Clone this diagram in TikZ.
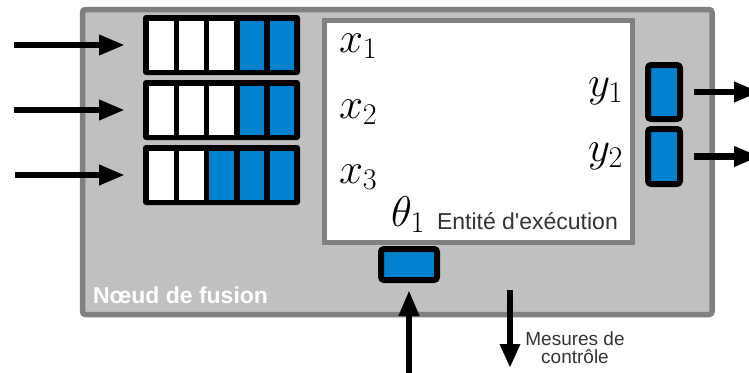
\RequirePackage{fix-cm}
\documentclass[tikz,border=0pt]{standalone}
\usepackage{fontspec}
\newfontfamily\arialf{Liberation Sans}[Ligatures=TeXOff]
\usetikzlibrary{arrows.meta}
\definecolor{boxgray}{HTML}{C0C0C0}
\definecolor{bordgray}{HTML}{808080}
\definecolor{cellblue}{HTML}{0082D0}
\definecolor{txtgray}{HTML}{333333}
\begin{document}
\begin{tikzpicture}[x=1pt,y=-1pt, outer sep=0pt, inner sep=0pt,
 arr/.style={line width=6.5pt, -{Triangle[length=26pt,width=19pt]}},
 buf/.style={fill=black, rounded corners=3pt, minimum width=157pt, minimum height=60pt},
 outbox/.style={fill=cellblue, draw=black, line width=6pt, rounded corners=3pt, minimum width=32pt, minimum height=54pt},
 mathlbl/.style={font=\fontsize{43}{43}\selectfont},
 sanslbl/.style={font=\arialf\fontsize{23}{23}\selectfont}]
\path[use as bounding box, clip] (0,0) rectangle (749,372);

\node[draw=bordgray, fill=boxgray, line width=5.5pt, rounded corners=3pt,
      minimum width=629.5pt, minimum height=305pt] (fusion) at (397.25,162) {};
\node[draw=bordgray, fill=white, line width=5pt,
      minimum width=308pt, minimum height=221.5pt] (exec) at (478.5,131.25) {};

\node[buf] (buf1) at (221.5,45) {};
\node[buf] (buf2) at (221.5,110) {};
\node[buf] (buf3) at (221.5,175) {};
\foreach \r/\nw in {1/3,2/3,3/2}{
  \foreach \i in {0,...,4}{
    \pgfmathsetmacro{\cx}{6+30.2*\i}
    \ifnum\i<\nw \def\cc{white}\else\def\cc{cellblue}\fi
    \fill[\cc] ([xshift=\cx pt, yshift=24pt]buf\r.west) rectangle ++(24.5,49);
  }
}

\coordinate (in1) at (14,45);
\coordinate (in2) at (14,110);
\coordinate (in3) at (15,175);
\draw[arr] (in1) -- ([xshift=-18pt]buf1.west);
\draw[arr] (in2) -- ([xshift=-18pt]buf2.west);
\draw[arr] (in3) -- ([xshift=-18pt]buf3.west);

\node[outbox] (out1) at (664,92) {};
\node[outbox, minimum height=55pt] (out2) at (664,156.5) {};
\coordinate (o1) at (760,92);
\coordinate (o2) at (760,156.5);
\draw[arr] ([xshift=14pt]out1.east) -- (o1);
\draw[arr] ([xshift=14pt]out2.east) -- (o2);

\node[outbox, minimum width=56pt, minimum height=31pt] (theta) at (409,264.5) {};
\coordinate (thin) at (409,385);
\draw[arr] (thin) -- ([yshift=-10pt]theta.south);

\coordinate (m1) at (510,290);
\coordinate (m2) at (510,368);
\draw[arr, -{Triangle[length=24pt,width=19pt]}] (m1) -- (m2);

\node[mathlbl, anchor=base west] (x1) at (339,52) {$x_1$};
\node[mathlbl, anchor=base west] (x2) at (339,118) {$x_2$};
\node[mathlbl, anchor=base west] (x3) at (339,183) {$x_3$};
\node[mathlbl, anchor=base east] (y1) at (623,96) {$y_1$};
\node[mathlbl, anchor=base east] (y2) at (623,161) {$y_2$};
\node[mathlbl, anchor=base west] (th) at (391,226) {$\theta_1$};

\node[sanslbl, text=txtgray, anchor=base west] (exlbl) at (437,229) {Entité d'exécution};
\node[sanslbl, font=\arialf\bfseries\fontsize{23}{23}\selectfont, text=white, anchor=base west] (fuslbl) at (93,303) {Nœud de fusion};
\node[font=\arialf\fontsize{19}{18}\selectfont, text=txtgray, align=center, anchor=base] (meslbl) at (575,363) {Mesures de\\contrôle};
\end{tikzpicture}
\end{document}
